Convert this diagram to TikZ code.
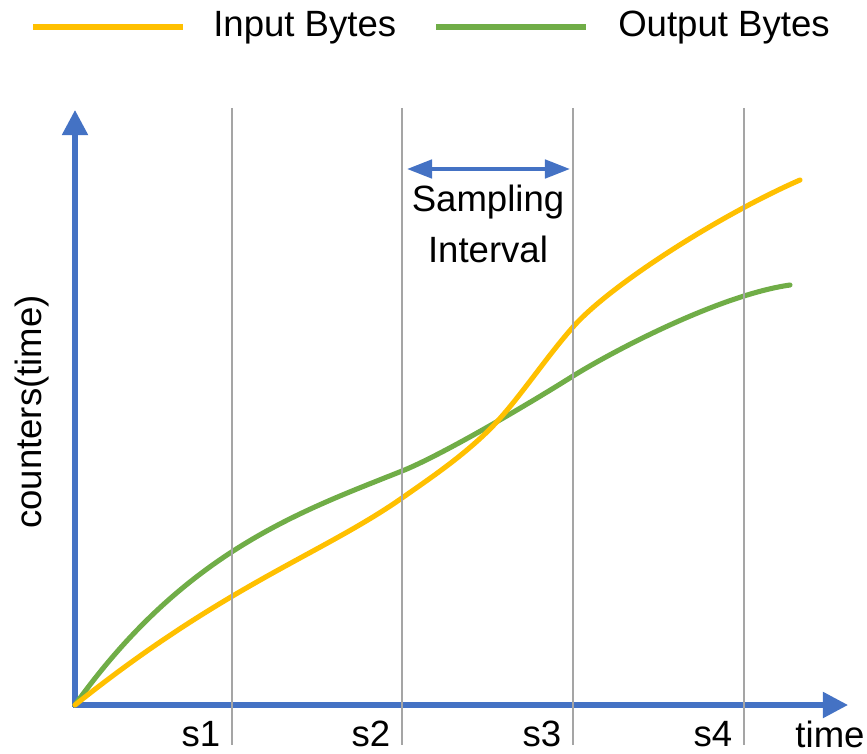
\documentclass[tikz,border=0pt]{standalone}
\usepackage{fontspec}
\setmainfont{Liberation Sans}
\usepackage{xcolor}
\usetikzlibrary{arrows.meta,positioning}
\definecolor{axisblue}{RGB}{68,114,196}
\definecolor{inorange}{RGB}{255,192,0}
\definecolor{outgreen}{RGB}{112,173,71}
\definecolor{gridgrey}{RGB}{165,165,165}

\begin{document}
\begin{tikzpicture}[x=0.025cm,y=-0.025cm,
  every node/.style={font=\fontsize{26}{36}\selectfont,inner sep=0pt},
  axis/.style={-{Triangle[length=17.8pt,width=17.8pt]},line width=3.6pt,axisblue},
  ivl/.style={{Triangle[length=17.8pt,width=13pt]}-{Triangle[length=17.8pt,width=13pt]},line width=2.8pt,axisblue},
  sline/.style={line width=1.8pt,gridgrey},
  inb/.style={line width=3.6pt,inorange},
  outb/.style={line width=3.6pt,outgreen}
]
\useasboundingbox (0,0) rectangle (867,754);

% legend
\draw[inb] (33,27) -- (183,27);
\node[anchor=west] (inlab) at (213,28) {Input Bytes};
\draw[outb] (436,27) -- (586,27);
\node[anchor=west] (outlab) at (618,28) {Output Bytes};

% axes
\coordinate (origin) at (75,705);
\coordinate (ytip) at (75,110);
\coordinate (xtip) at (848,705);
\draw[axis] ([yshift=-1.3pt]origin) -- (ytip);
\draw[axis] ([xshift=-1.3pt]origin) -- (xtip);
\node[rotate=90] (ylab) at (32,412) {counters(time)};
\node (tlab) at (830,734) {time};

% curves
\draw[outb,line cap=round] (origin) .. controls (185,551) and (302,511) .. (402,471)
  .. controls (440,456) and (527,405) .. (573,376)
  .. controls (615,350) and (720,295) .. (790,285);
\draw[inb,line cap=round] (origin) .. controls (225,585) and (322,554) .. (402,498)
  .. controls (432,477) and (460,458) .. (487,432)
  .. controls (515,405) and (543,361) .. (573,327)
  .. controls (610,285) and (720,215) .. (800,180);

% sampling points
\foreach \x/\s in {232/1,402/2,573/3,744/4}{
  \draw[sline] (\x,108) -- (\x,745);
  \node (s\s) at (\x-31,734) {s\s};
}

% interval
\coordinate (ivla) at (407,169);
\coordinate (ivlb) at (570,169);
\draw[ivl] (ivla) -- (ivlb);
\node[align=center] (ivllab) at (488,224) {Sampling\\Interval};
\end{tikzpicture}
\end{document}
